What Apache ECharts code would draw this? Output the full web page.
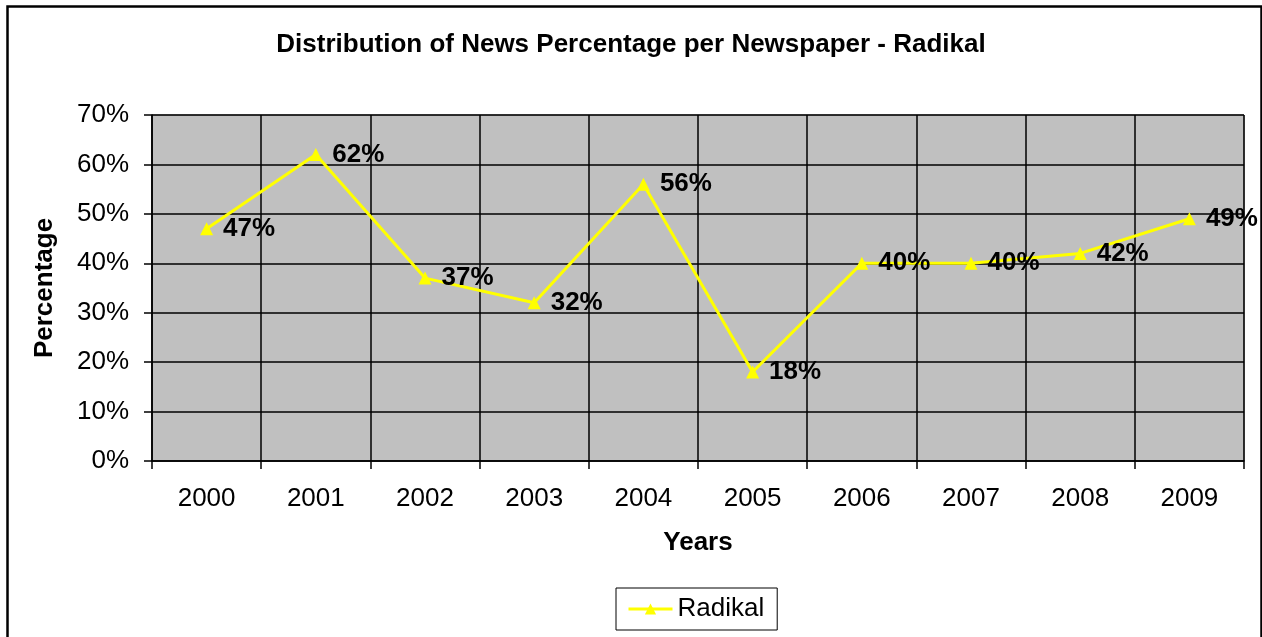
<!DOCTYPE html>
<html><head><meta charset="utf-8">
<script src="https://cdn.jsdelivr.net/npm/echarts@6/dist/echarts.min.js"></script>
<style>html,body{margin:0;padding:0;background:#fff}#c{width:1262px;height:637px}</style>
</head><body><div id="c"></div>
<script>
const categories = ['2000','2001','2002','2003','2004','2005','2006','2007','2008','2009'];
const radikal = [47, 62, 37, 32, 56, 18, 40, 40, 42, 49];
const yTicks = [0, 10, 20, 30, 40, 50, 60, 70];

const F = '"Liberation Sans", Arial, sans-serif';
const chart = echarts.init(document.getElementById('c'));
chart.setOption({
  animation: false,
  backgroundColor: '#fff',
  textStyle: { fontFamily: F },
  title: {
    text: 'Distribution of News Percentage per Newspaper - Radikal',
    left: 'center', top: 27,
    textStyle: { fontFamily: F, fontSize: 26, fontWeight: 'bold', color: '#000' }
  },
  graphic: [{
    type: 'rect', left: 5, top: 4, shape: { width: 1254, height: 640 },
    style: { fill: 'none', stroke: '#000', lineWidth: 2.5 }, silent: true
  }],
  legend: {
    data: ['Radikal'], left: 616, top: 588,
    padding: [8, 13, 8, 11],
    itemGap: 8,
    borderColor: '#000', borderWidth: 1,
    itemWidth: 44, itemHeight: 14,
    lineStyle: { width: 3 },
    textStyle: { fontFamily: F, fontSize: 26, color: '#000' }
  },
  grid: { left: 152, right: 18, top: 115, bottom: 176, show: true, backgroundColor: '#c0c0c0', borderColor: '#808080', borderWidth: 1 },
  xAxis: {
    type: 'category', data: categories, boundaryGap: true,
    name: 'Years', nameLocation: 'middle', nameGap: 69,
    nameTextStyle: { fontFamily: F, fontSize: 26, fontWeight: 'bold', color: '#000' },
    axisLine: { lineStyle: { color: '#000', width: 1.5 } },
    axisTick: { show: true, length: 8, lineStyle: { color: '#000', width: 1.5 } },
    axisLabel: { fontFamily: F, fontSize: 26, color: '#000', margin: 25 },
    splitLine: { show: true, lineStyle: { color: '#000', width: 1.5 } }
  },
  yAxis: {
    type: 'value', min: 0, max: 70, interval: 10,
    name: 'Percentage', nameLocation: 'middle', nameGap: 94, nameRotate: 90,
    nameTextStyle: { fontFamily: F, fontSize: 26, fontWeight: 'bold', color: '#000' },
    axisLine: { show: true, lineStyle: { color: '#000', width: 1.5 } },
    axisTick: { show: true, length: 8, lineStyle: { color: '#000', width: 1.5 } },
    axisLabel: { fontFamily: F, fontSize: 26, color: '#000', margin: 23,
      formatter: v => yTicks.includes(v) ? v + '%' : '' },
    splitLine: { show: true, lineStyle: { color: '#000', width: 1.5 } }
  },
  series: [{
    name: 'Radikal', type: 'line', data: radikal,
    symbol: 'triangle', symbolSize: 13,
    lineStyle: { color: '#ffff00', width: 3 },
    itemStyle: { color: '#ffff00' },
    label: { show: true, position: 'right', distance: 10, formatter: p => p.value + '%',
      fontFamily: F, fontSize: 26, fontWeight: 'bold', color: '#000' }
  }]
});
</script></body></html>
